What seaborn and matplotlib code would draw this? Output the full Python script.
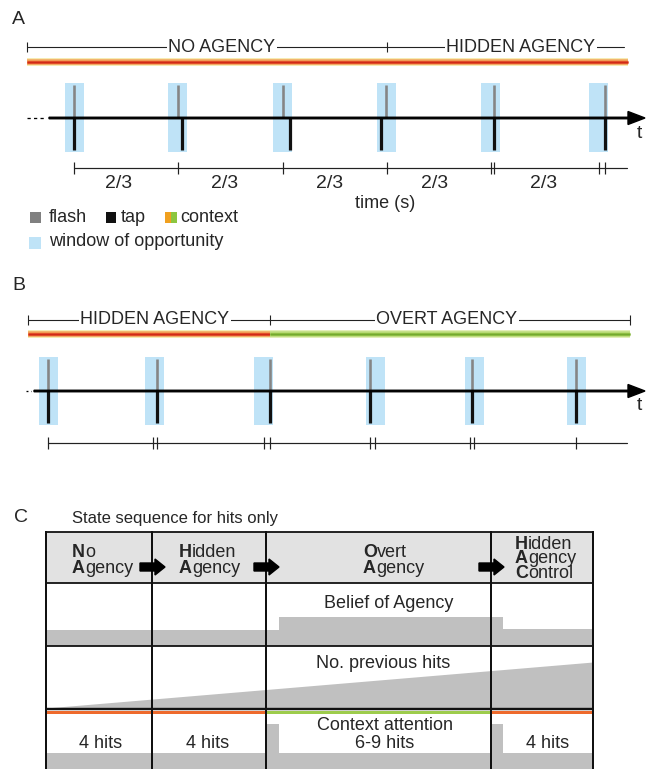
import matplotlib.pyplot as plt
import seaborn as sns
import numpy as np

sns.set_style("white")
plt.rcParams['font.family'] = ['Liberation Sans', 'DejaVu Sans']

# ---- panel A data (pixel-like time units) ----
a_states = ["NO AGENCY", "HIDDEN AGENCY"]
a_state_bounds = [27, 387, 624]
a_state_label_x = [222, 521]
a_windows = [74.5, 177.5, 282.5, 386.5, 490.5, 598.5]
a_flash = [74, 178, 283, 386, 494, 605]
a_tap = [74, 182, 290, 381, 494, 605]
a_ticks = [74, 178, 283, 387, 491, 494, 599, 605]
a_interval_end = 627
a_interval_labels = ["2/3", "2/3", "2/3", "2/3", "2/3"]
a_interval_label_x = [119, 225, 330, 435, 544]

# ---- panel B data ----
b_states = ["HIDDEN AGENCY", "OVERT AGENCY"]
b_state_bounds = [28, 270, 630]
b_state_label_x = [155, 447]
b_windows = [48.5, 154, 263.5, 375.5, 474.5, 576.5]
b_flash = [48, 157, 270, 370, 472, 576]
b_tap = [48, 157, 270, 370, 472, 576]
b_ticks = [48, 153, 157, 264, 270, 370, 375, 470, 474, 576]
b_interval_end = 627

# ---- panel C data ----
col_edges = [46, 152, 266, 491, 593]
headers = [[("N", "o"), ("A", "gency")],
           [("H", "idden"), ("A", "gency")],
           [("O", "vert"), ("A", "gency")],
           [("H", "idden"), ("A", "gency"), ("C", "ontrol")]]
header_x = [72, 179, 363, 515]
belief_x = [46, 279, 503, 593]
belief_y = [630, 617, 629]
hits_x = [46, 593]
hits_y = [708, 662]
attn_x = [46, 267, 279, 492, 503, 593]
attn_y = [753, 724, 753, 724, 753]
context_colors = ['#ee6a2c', '#ee6a2c', '#9dcc4c', '#ee6a2c']
hits_labels = ["4 hits", "4 hits", "6-9 hits", "4 hits"]
hits_label_x = [101, 208, 385, 548]

RED = ['#f6ebb4', '#f2a459', '#e6582e', '#cf2a18']
GREEN = ['#e2eeb8', '#bcdc7a', '#94c447', '#74a830']
PX = 0.72  # points per pixel at dpi 100

fig = plt.figure(figsize=(6.46, 7.69), dpi=100)
ax = fig.add_axes([0, 0, 1, 1])
ax.set_xlim(0, 646)
ax.set_ylim(769, 0)
ax.axis('off')
renderer = fig.canvas.get_renderer()


def state_bracket(y, bounds, labels, label_x, end_tick):
    ax.plot([bounds[0], bounds[-1]], [y, y], color='#222222', lw=1.1 * PX, zorder=2)
    ticks = bounds if end_tick else bounds[:-1]
    ax.vlines(ticks, y - 5, y + 5, color='#222222', lw=1.1 * PX, zorder=2)
    for lab, x in zip(labels, label_x):
        ax.text(x, y, lab, fontsize=13, ha='center', va='center', zorder=3,
                bbox=dict(fc='white', ec='none', pad=0.8))


def context_bar(y, x0, x1, colors):
    for w, c in zip([8, 5.5, 3.2, 1.4], colors):
        ax.plot([x0, x1], [y, y], color=c, lw=w * PX, solid_capstyle='butt')


def timeline(y, windows, flash, tap, top, bottom, dots_x0, line_x0, dash):
    ax.bar(windows, bottom - top, bottom=top, width=19, color='#bfe3f7',
           linewidth=0, zorder=1)
    ax.vlines(flash, top + 2, y, color='#858585', lw=2.6 * PX, zorder=2)
    ax.vlines(tap, y, bottom - 2, color='#111111', lw=3.2 * PX, zorder=2)
    ax.plot([dots_x0, line_x0 - 3], [y, y], color='k', lw=1.3 * PX,
            linestyle=(0, dash))
    ax.arrow(line_x0, y, 645 - line_x0, 0, width=1.5, head_width=13,
             head_length=17, length_includes_head=True, color='k', zorder=3)
    ax.text(637, y + 15, "t", fontsize=14, ha='left', va='center')


def interval_bar(y, ticks, end):
    ax.plot([ticks[0], end], [y, y], color='#222222', lw=1.2 * PX)
    ax.vlines(ticks, y - 6, y + 6, color='#222222', lw=1.2 * PX)


# ---------------- Panel A ----------------
ax.text(12, 20, "A", fontsize=14, ha='left', va='center')
state_bracket(47, a_state_bounds, a_states, a_state_label_x, end_tick=False)
context_bar(62, 27, 628, RED)
timeline(118, a_windows, a_flash, a_tap, 83, 152, 27, 49, (2.5, 2.5))
interval_bar(168, a_ticks, a_interval_end)
for lab, x in zip(a_interval_labels, a_interval_label_x):
    ax.text(x, 184, lab, fontsize=14, ha='center', va='center')
ax.text(385, 203, "time (s)", fontsize=13, ha='center', va='center')

# legend
ax.bar([35], [11], bottom=212, width=11, color='#808080', linewidth=0)
ax.text(49, 217, "flash", fontsize=13, ha='left', va='center')
ax.bar([110.5], [11], bottom=212, width=10, color='#111111', linewidth=0)
ax.text(121, 217, "tap", fontsize=13, ha='left', va='center')
ax.bar([168], [11], bottom=212, width=6, color='#f0a020', linewidth=0)
ax.bar([174], [11], bottom=212, width=6, color='#8cc63f', linewidth=0)
ax.text(180, 217, "context", fontsize=13, ha='left', va='center')
ax.bar([35], [12], bottom=237, width=12, color='#bfe3f7', linewidth=0)
ax.text(49, 242, "window of opportunity", fontsize=13, ha='left', va='center')

# ---------------- Panel B ----------------
ax.text(12, 285, "B", fontsize=14, ha='left', va='center')
state_bracket(320, b_state_bounds, b_states, b_state_label_x, end_tick=True)
context_bar(334, 28, 270, RED)
context_bar(334, 270, 630, GREEN)
timeline(391, b_windows, b_flash, b_tap, 357, 425, 26, 34, (1.5, 2))
interval_bar(443, b_ticks, b_interval_end)

# ---------------- Panel C ----------------
ax.text(14, 518, "C", fontsize=14, ha='left', va='center')
ax.text(72, 518, "State sequence for hits only", fontsize=12, ha='left', va='center')

ax.fill_between([col_edges[0], col_edges[-1]], 532, 583, color='#e2e2e2', lw=0)
ax.fill_between(belief_x, belief_y + [belief_y[-1]], 646, step='post',
                color='#c0c0c0', lw=0)
ax.fill_between(hits_x, hits_y, 708, color='#c0c0c0', lw=0)
ax.fill_between(attn_x, attn_y + [attn_y[-1]], 769, step='post',
                color='#c0c0c0', lw=0)

for i, c in enumerate(context_colors):
    ax.plot([col_edges[i], col_edges[i + 1]], [712, 712], color=c, lw=3 * PX,
            solid_capstyle='butt', zorder=3)

ax.hlines([532, 583, 646], col_edges[0], col_edges[-1], color='#111111',
          lw=1.8 * PX, zorder=4)
ax.hlines([708.5], col_edges[0], col_edges[-1], color='#111111', lw=2.4 * PX, zorder=4)
ax.vlines(col_edges, 531, 769, color='#111111', lw=2 * PX, zorder=4)

for lines, x in zip(headers, header_x):
    if len(lines) == 2:
        for (b, rest), y in zip(lines, [557, 573]):
            t = ax.text(x, y, b, fontsize=13, fontweight='bold', ha='left',
                        va='baseline', zorder=5)
            w = t.get_window_extent(renderer).width
            ax.text(x + w, y, rest, fontsize=13, ha='left', va='baseline', zorder=5)
    else:
        # tightly stacked three-line label, drawn as two multi-line texts
        bold = "\n".join(b for b, _ in lines)
        rest = "\n".join(r for _, r in lines)
        t = ax.text(x, 578, bold, fontsize=13, fontweight='bold', ha='left',
                    va='baseline', linespacing=0.82, zorder=5)
        w = t.get_window_extent(renderer).width
        ax.text(x + w, 578, rest, fontsize=13, ha='left', va='baseline',
                linespacing=0.82, zorder=5)

for xe in col_edges[1:-1]:
    ax.arrow(xe - 12, 567, 25, 0, width=8, head_width=16, head_length=10,
             length_includes_head=True, color='k', zorder=6)

ax.text(389, 604, "Belief of Agency", fontsize=13, ha='center', va='center', zorder=5)
ax.text(383, 664, "No. previous hits", fontsize=13, ha='center', va='center', zorder=5)
ax.text(385, 725, "Context attention", fontsize=13, ha='center', va='center', zorder=5)
for lab, x in zip(hits_labels, hits_label_x):
    ax.text(x, 743, lab, fontsize=13, ha='center', va='center', zorder=5)

fig.savefig("out.png", dpi=100)
